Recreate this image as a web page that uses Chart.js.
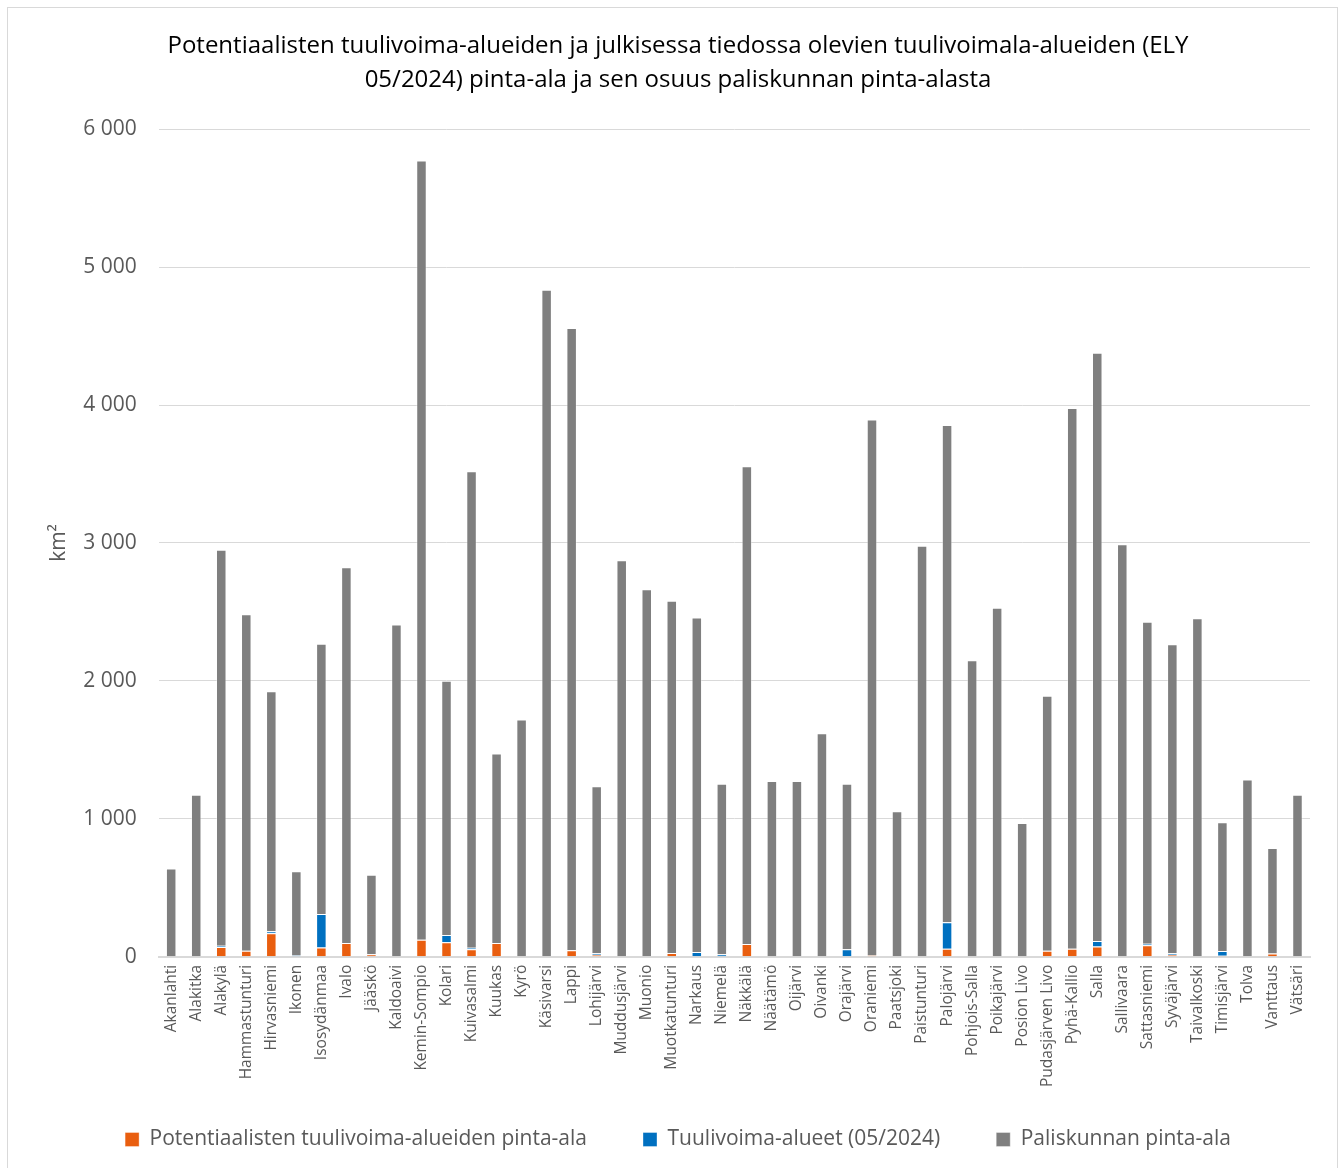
<!DOCTYPE html>
<html>
<head>
<meta charset="utf-8">
<script src="https://cdn.jsdelivr.net/npm/chart.js@4/dist/chart.umd.min.js"></script>
<style>
  html, body { margin: 0; padding: 0; background: #fff; }
  #frame {
    position: absolute; left: 7px; top: 7px;
    width: 1331px; height: 1170px;
    border: 1px solid #d9d9d9; box-sizing: border-box;
  }
  #wrap { position: absolute; left: 0; top: 0; width: 1344px; height: 1168px; }
</style>
</head>
<body>
<div id="frame"></div>
<div id="wrap"><canvas id="barChart"></canvas></div>
<script>
// Data ----------------------------------------------------------------------

const categories = ['Akanlahti','Alakitka','Alakylä','Hammastunturi','Hirvasniemi','Ikonen','Isosydänmaa','Ivalo','Jääskö','Kaldoaivi',
  'Kemin-Sompio','Kolari','Kuivasalmi','Kuukas','Kyrö','Käsivarsi','Lappi','Lohijärvi','Muddusjärvi','Muonio',
  'Muotkatunturi','Narkaus','Niemelä','Näkkälä','Näätämö','Oijärvi','Oivanki','Orajärvi','Oraniemi','Paatsjoki',
  'Paistunturi','Palojärvi','Pohjois-Salla','Poikajärvi','Posion Livo','Pudasjärven Livo','Pyhä-Kallio','Salla','Sallivaara','Sattasniemi',
  'Syväjärvi','Taivalkoski','Timisjärvi','Tolva','Vanttaus','Vätsäri'];

// potential wind power areas (km2)
const potentialArea = [0, 0, 70, 43, 171, 0, 67, 99, 19, 4,
  123, 106, 55, 99, 0, 0, 48, 14, 0, 0,
  27, 0, 0, 92, 0, 0, 0, 0, 10, 0,
  0, 58, 0, 0, 0, 43, 58, 75, 0, 84,
  14, 0, 7, 0, 24, 0];

// wind power areas 05/2024 (km2)
const windAreas = [0, 0, 10, 0, 14, 10, 243, 0, 0, 0,
  0, 51, 10, 0, 0, 0, 0, 12, 0, 4,
  0, 34, 19, 0, 0, 0, 0, 55, 0, 0,
  0, 193, 0, 0, 0, 0, 0, 39, 0, 10,
  12, 0, 34, 0, 0, 0];

// rest of the herding co-operative area (km2)
const herdingArea = [640, 1175, 2870, 2440, 1740, 610, 1960, 2725, 575, 2405,
  5650, 1845, 3455, 1375, 1720, 4835, 4510, 1210, 2875, 2660,
  2555, 2425, 1235, 3465, 1275, 1275, 1620, 1200, 3885, 1055,
  2980, 3605, 2150, 2530, 970, 1850, 3920, 4265, 2990, 2335,
  2240, 2455, 935, 1285, 765, 1175];

const yTicks = [0, 1000, 2000, 3000, 4000, 5000, 6000];

// Chart ---------------------------------------------------------------------

const fontFamily = '"Open Sans", "Noto Sans", sans-serif';
const textGray = '#595959';
const legendTrim = 22; // less empty room above the legend row, keeps wide gaps between items

// shrink the legend box so the long rotated labels fit, then draw the row a bit higher
const legendSpacing = {
  id: 'legendSpacing',
  beforeUpdate(chart) {
    const lg = chart.legend;
    if (lg && !lg.__trimmed) {
      const fit = lg.fit.bind(lg);
      lg.fit = () => { fit(); lg.height -= legendTrim; };
      lg.__trimmed = true;
    }
  },
  afterLayout(chart) {
    chart.legend.top -= legendTrim;
  }
};

const data = {
  labels: categories,
  datasets: [{
    label: 'Potentiaalisten tuulivoima-alueiden pinta-ala',
    data: potentialArea,
    backgroundColor: '#e95e0f',
    borderColor: 'rgba(255,255,255,0.35)',
    borderWidth: 1
  }, {
    label: 'Tuulivoima-alueet (05/2024)',
    data: windAreas,
    backgroundColor: '#0070c0',
    borderColor: 'rgba(255,255,255,0.35)',
    borderWidth: 1
  }, {
    label: 'Paliskunnan pinta-ala',
    data: herdingArea,
    backgroundColor: '#7f7f7f',
    borderColor: 'rgba(255,255,255,0.35)',
    borderWidth: 1
  }]
};

const config = {
  type: 'bar',
  data,
  plugins: [legendSpacing],
  options: {
    responsive: false,
    animation: false,
    devicePixelRatio: 1,
    layout: { padding: { left: 46, right: 34, top: 24, bottom: 8 } },
    datasets: { bar: { categoryPercentage: 1, barPercentage: 0.42 } },
    plugins: {
      title: {
        display: true,
        text: ['Potentiaalisten tuulivoima-alueiden ja julkisessa tiedossa olevien tuulivoimala-alueiden (ELY',
               '05/2024) pinta-ala ja sen osuus paliskunnan pinta-alasta'],
        color: '#000',
        font: { family: fontFamily, size: 24, weight: 'normal', lineHeight: 1.42 },
        padding: { top: 5, bottom: 32 }
      },
      legend: {
        position: 'bottom',
        labels: {
          color: textGray,
          font: { family: fontFamily, size: 21 },
          boxWidth: 14,
          boxHeight: 14,
          padding: 56
        }
      },
      tooltip: { enabled: false }
    },
    scales: {
      x: {
        stacked: true,
        grid: { display: false, drawTicks: false },
        border: { color: '#d9d9d9', width: 2 },
        ticks: {
          color: textGray,
          font: { family: fontFamily, size: 15.5 },
          minRotation: 90,
          maxRotation: 90,
          autoSkip: false,
          padding: 8
        }
      },
      y: {
        stacked: true,
        min: 0,
        max: 6000,
        afterBuildTicks: (axis) => { axis.ticks = yTicks.map(v => ({ value: v })); },
        grid: { color: '#d9d9d9', drawTicks: false, lineWidth: 1 },
        border: { display: false },
        ticks: {
          color: textGray,
          font: { family: fontFamily, size: 21 },
          padding: 22,
          callback: (v) => v.toLocaleString('fi-FI').replace(/\s/g, ' ')
        },
        title: {
          display: true,
          text: 'km²',
          color: textGray,
          font: { family: fontFamily, size: 21 },
          padding: { top: 0, bottom: -10 }
        }
      }
    }
  }
};

const canvas = document.getElementById('barChart');
canvas.width = 1344;
canvas.height = 1168;
const barChart = new Chart(canvas, config);
</script>
</body>
</html>
